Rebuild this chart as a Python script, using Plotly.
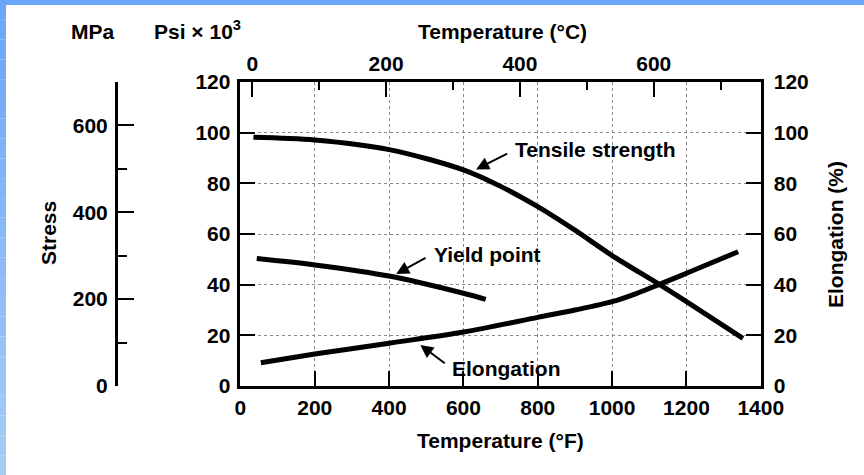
import plotly.graph_objects as go

# ---- data ----
tensile_F = [35, 200, 400, 600, 700, 800, 900, 1000, 1127, 1200, 1352]
tensile_ksi = [98.2, 97.1, 93.3, 85.3, 78.8, 70.8, 61.5, 51.5, 40.1, 33.3, 18.8]

yield_F = [44, 200, 400, 600, 660]
yield_ksi = [50.3, 47.8, 43.4, 36.6, 34.2]

elong_F = [55, 200, 400, 600, 800, 900, 1000, 1065, 1127, 1200, 1339]
elong_pct = [9.2, 12.6, 16.9, 21.3, 27.1, 30.0, 33.3, 36.5, 40.1, 44.5, 53.0]

F_ticks = [0, 200, 400, 600, 800, 1000, 1200, 1400]
C_ticks = [0, 200, 400, 600]
ksi_ticks = [0, 20, 40, 60, 80, 100, 120]
pct_ticks = [0, 20, 40, 60, 80, 100, 120]
mpa_ticks = [0, 200, 400, 600]

F_range = [0, 1400]
C_range = [(F_range[0] - 32) / 1.8, (F_range[1] - 32) / 1.8]
ksi_range = [0, 120]
mpa_range = [0, 700]

FONT = "Liberation Sans, Arial, sans-serif"
FS = 21
W, H = 864, 475

xdom = [240.4 / W, 760.8 / W]
ydom = [(H - 386) / H, (H - 82) / H]

fig = go.Figure()
line_style = dict(color="black", width=5, shape="spline", smoothing=0.9)
fig.add_trace(go.Scatter(x=tensile_F, y=tensile_ksi, mode="lines", line=line_style,
                         xaxis="x", yaxis="y", hoverinfo="skip", showlegend=False))
fig.add_trace(go.Scatter(x=yield_F, y=yield_ksi, mode="lines", line=line_style,
                         xaxis="x", yaxis="y", hoverinfo="skip", showlegend=False))
fig.add_trace(go.Scatter(x=elong_F, y=elong_pct, mode="lines", line=line_style,
                         xaxis="x", yaxis="y2", hoverinfo="skip", showlegend=False))
# helper (invisible) traces so that the extra scales are drawn
fig.add_trace(go.Scatter(x=C_ticks, y=[ksi_range[0]] * len(C_ticks), mode="markers",
                         marker=dict(opacity=0), xaxis="x2", yaxis="y",
                         hoverinfo="skip", showlegend=False))
fig.add_trace(go.Scatter(x=[F_range[0]] * len(mpa_ticks), y=mpa_ticks, mode="markers",
                         marker=dict(opacity=0), xaxis="x", yaxis="y3",
                         hoverinfo="skip", showlegend=False))

tickfont = dict(family=FONT, size=FS, color="black", weight="bold")
common = dict(showline=True, linecolor="black", linewidth=2.5, ticks="inside",
              tickcolor="black", tickwidth=2, ticklen=15, zeroline=False,
              tickfont=tickfont, fixedrange=True, automargin=False)
grid = dict(showgrid=True, gridcolor="#8a8a8a", gridwidth=1, griddash="dot")

fig.update_layout(
    autosize=True,
    margin=dict(l=0, r=0, t=0, b=0, pad=0, autoexpand=False),
    paper_bgcolor="white", plot_bgcolor="white",
    font=dict(family=FONT, size=FS, color="black", weight="bold"),
    xaxis=dict(domain=xdom, range=F_range, tickvals=F_ticks, anchor="y",
               ticklabelstandoff=1, **grid, **common),
    xaxis2=dict(range=C_range, tickvals=C_ticks, overlaying="x", side="top",
                anchor="y", showgrid=False, ticklabelstandoff=0,
                minor=dict(dtick=100, tick0=0, ticks="inside", ticklen=8,
                           tickcolor="black", tickwidth=2, showgrid=False),
                **common),
    yaxis=dict(domain=ydom, range=ksi_range, tickvals=ksi_ticks, anchor="x",
               ticklabelstandoff=3, **grid, **common),
    yaxis2=dict(range=ksi_range, tickvals=pct_ticks, overlaying="y", side="right",
                anchor="x", showgrid=False, ticklabelstandoff=6, **common),
    yaxis3=dict(range=mpa_range, tickvals=mpa_ticks, overlaying="y", side="left",
                anchor="free", position=115.7 / W, showgrid=False,
                ticklabelstandoff=3,
                minor=dict(dtick=100, tick0=0, ticks="inside", ticklen=10,
                           tickcolor="black", tickwidth=2, showgrid=False),
                **{**common, "ticklen": 17}),
)

lblfont = dict(family=FONT, size=FS, color="black", weight="bold")

# axis titles
def ptext(text, x, y, angle=0):
    fig.add_annotation(text=text, x=x, y=y, xref="paper", yref="paper",
                       showarrow=False, textangle=angle, xanchor="center",
                       yanchor="middle", font=lblfont)

ptext("MPa", 93 / W, 1 - 32 / H)
ptext("Psi × 10<sup>3</sup>", 197 / W, 1 - 30 / H)
ptext("Temperature (°C)", 502 / W, 1 - 32 / H)
ptext("Temperature (°F)", 500 / W, 1 - 440 / H)
ptext("Stress", 48 / W, 1 - 233 / H, -90)
ptext("Elongation (%)", 835 / W, 1 - 235 / H, -90)

# curve labels: text sits at the arrow tail, arrow points at the curve
labels = [
    ("Tensile strength", 737, 93.2, 634, 85.5, "y"),
    ("Yield point", 517, 52.1, 419, 44.2, "y"),
    ("Elongation", 567, 7.1, 484, 16.2, "y2"),
]
for txt, tx, ty, hx, hy, yr in labels:
    fig.add_annotation(text=txt, x=hx, y=hy, xref="x", yref=yr,
                       ax=tx, ay=ty, axref="x", ayref=yr,
                       xanchor="left", yanchor="middle",
                       showarrow=True, arrowhead=2, arrowsize=1.3,
                       arrowwidth=2, arrowcolor="black", startstandoff=8,
                       borderpad=0, font=lblfont)

# blue frame strips on left and top
n = 24
c0 = (108, 166, 250)
c1 = (165, 204, 246)
for i in range(n):
    t = i / (n - 1)
    col = tuple(round(a + (b - a) * t) for a, b in zip(c0, c1))
    fig.add_shape(type="rect", xref="paper", yref="paper",
                  x0=0, x1=6 / W, y0=1 - (i + 1) / n, y1=1 - i / n,
                  fillcolor="rgb(%d,%d,%d)" % col, line=dict(width=0), layer="above")
fig.add_shape(type="rect", xref="paper", yref="paper", x0=0, x1=1,
              y0=1 - 5 / H, y1=1, fillcolor="rgb(108,166,250)",
              line=dict(width=0), layer="above")

fig.write_html("out.html", config={"displayModeBar": False},
               default_width="%dpx" % W,
               default_height="%dpx;position:absolute;left:0;top:0" % H,
               post_script="document.body.style.margin='0';")
